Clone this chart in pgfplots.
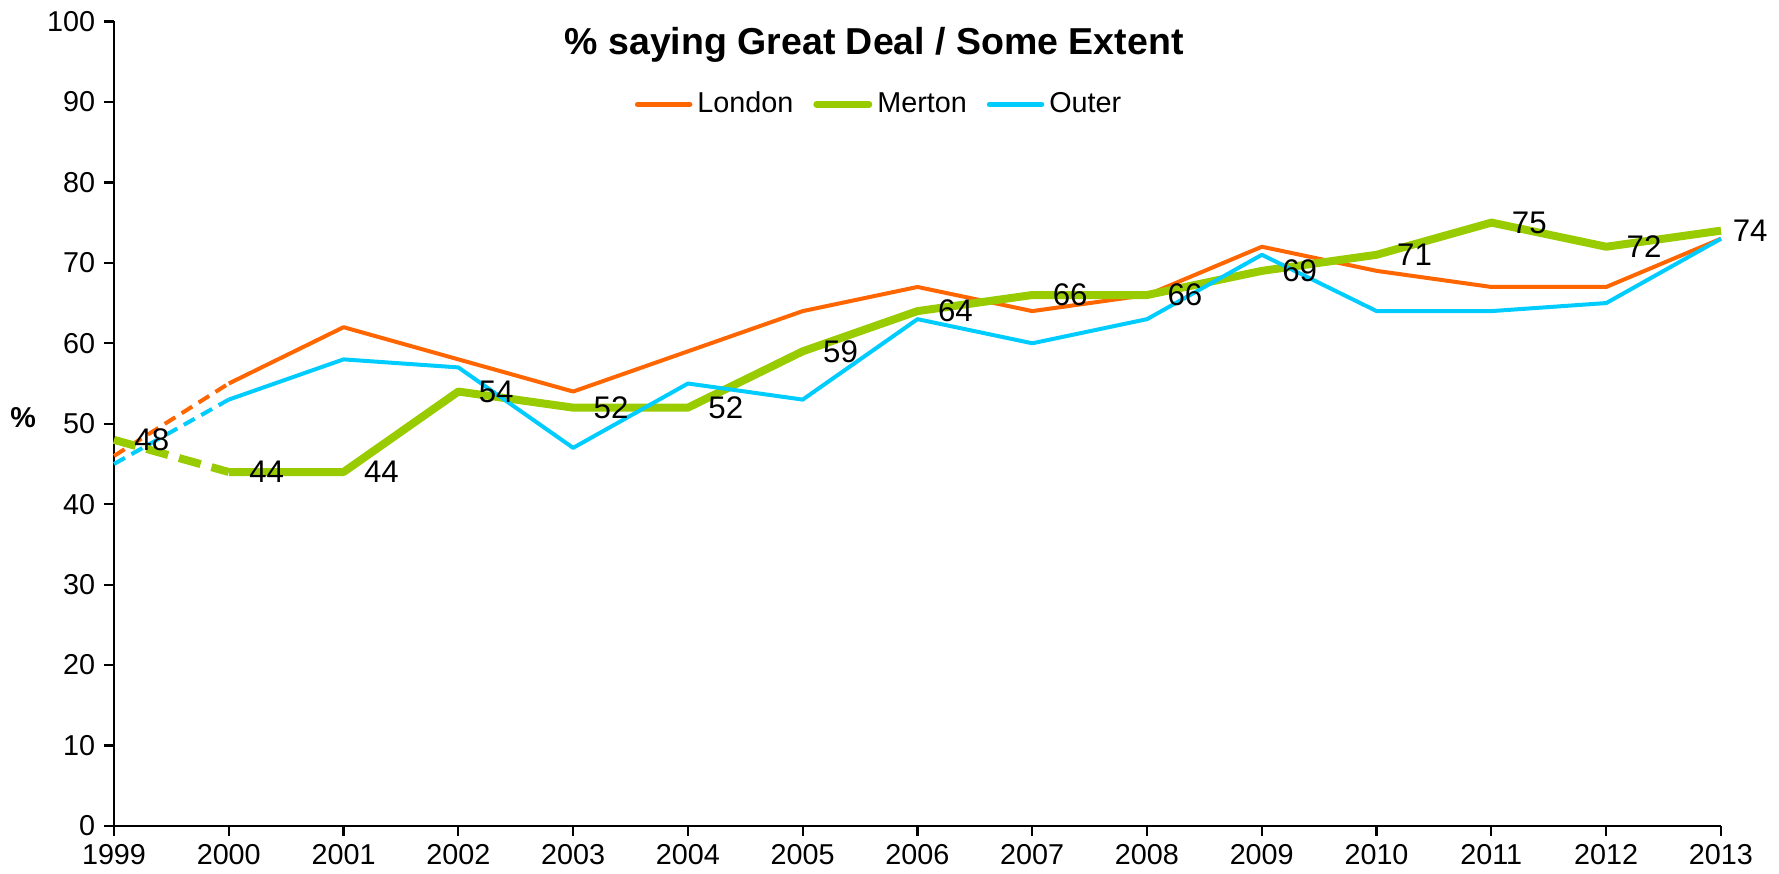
\documentclass[border=0pt]{standalone}
\usepackage{pgfplots}
\pgfplotsset{compat=1.18}
\usepackage{fontspec}
\setmainfont{Liberation Sans}
\definecolor{clondon}{HTML}{FF6600}
\definecolor{cmerton}{HTML}{99CC00}
\definecolor{couter}{HTML}{00CCFF}
\begin{document}
\begin{tikzpicture}[font=\fontsize{11.5}{13}\selectfont]
\begin{axis}[
  name=ax, scale only axis, width=642.8pt, height=321.8pt,
  xmin=1999, xmax=2013, ymin=0, ymax=100,
  xtick={1999,...,2013}, ytick={0,10,...,100},
  axis x line=bottom, axis y line=left,
  axis line style={-, line width=0.9pt},
  tick align=outside, major tick length=4pt,
  tick style={black, line width=0.9pt},
  xticklabel style={/pgf/number format/1000 sep={}},
  /pgf/number format/assume math mode=true,
  ylabel={\textbf{\%}},
  y label style={rotate=-90, at={(axis description cs:-0.0566,0.507)}, anchor=center},
  title={\% saying Great Deal / Some Extent},
  every axis title/.style={at={(axis description cs:0.473,0.971)}, anchor=center,
    font=\bfseries\fontsize{15}{17}\selectfont},
  legend style={at={(axis description cs:0.477,0.897)}, anchor=center,
    draw=none, fill=none, legend columns=3, font=\fontsize{11.5}{13}\selectfont,
    /tikz/every even column/.append style={column sep=6pt}},
  legend image code/.code={\draw[#1, line cap=round] (0pt,0pt) -- (21pt,0pt);},
  clip=false,
]
% first year only dashed
\addplot[clondon, line width=1.6pt, dash pattern=on 5pt off 3pt, forget plot]
  coordinates {(1999,46) (2000,55)};
\addplot[cmerton, line width=3.2pt, dash pattern=on 9pt off 4.5pt, forget plot]
  coordinates {(1999,48) (2000,44)};
\addplot[couter, line width=1.6pt, dash pattern=on 5pt off 3pt, forget plot]
  coordinates {(1999,45) (2000,53)};

\addplot[clondon, line width=1.6pt, line join=round, legend image post style={line width=2pt}]
  coordinates {(2000,55) (2001,62) (2002,58) (2003,54) (2004,59) (2005,64) (2006,67)
    (2007,64) (2008,66) (2009,72) (2010,69) (2011,67) (2012,67) (2013,73)};
\addlegendentry{London}
\addplot[cmerton, line width=3.2pt, line join=round, legend image post style={line width=2.6pt}]
  coordinates {(2000,44) (2001,44) (2002,54) (2003,52) (2004,52) (2005,59) (2006,64)
    (2007,66) (2008,66) (2009,69) (2010,71) (2011,75) (2012,72) (2013,74)};
\addlegendentry{Merton}
\addplot[couter, line width=1.6pt, line join=round, legend image post style={line width=2pt}]
  coordinates {(2000,53) (2001,58) (2002,57) (2003,47) (2004,55) (2005,53) (2006,63)
    (2007,60) (2008,63) (2009,71) (2010,64) (2011,64) (2012,65) (2013,73)};
\addlegendentry{Outer}

% Merton value labels
\addplot[draw=none, forget plot, nodes near coords,
  every node near coord/.append style={anchor=west, xshift=8pt, inner sep=0pt,
    text=black, font=\fontsize{12.5}{14}\selectfont}]
  coordinates {(1999,48) (2000,44) (2001,44) (2002,54) (2003,52) (2004,52) (2005,59)
    (2006,64) (2007,66) (2008,66) (2009,69) (2010,71) (2011,75) (2012,72)};
\addplot[draw=none, forget plot, nodes near coords,
  every node near coord/.append style={anchor=west, xshift=4.5pt, inner sep=0pt,
    text=black, font=\fontsize{12.5}{14}\selectfont}]
  coordinates {(2013,74)};
\end{axis}
\pgfresetboundingbox
\path[use as bounding box] ([xshift=-45.6pt,yshift=-19.2pt]ax.south west)
  rectangle ([xshift=23.2pt,yshift=8.6pt]ax.north east);
\end{tikzpicture}
\end{document}
